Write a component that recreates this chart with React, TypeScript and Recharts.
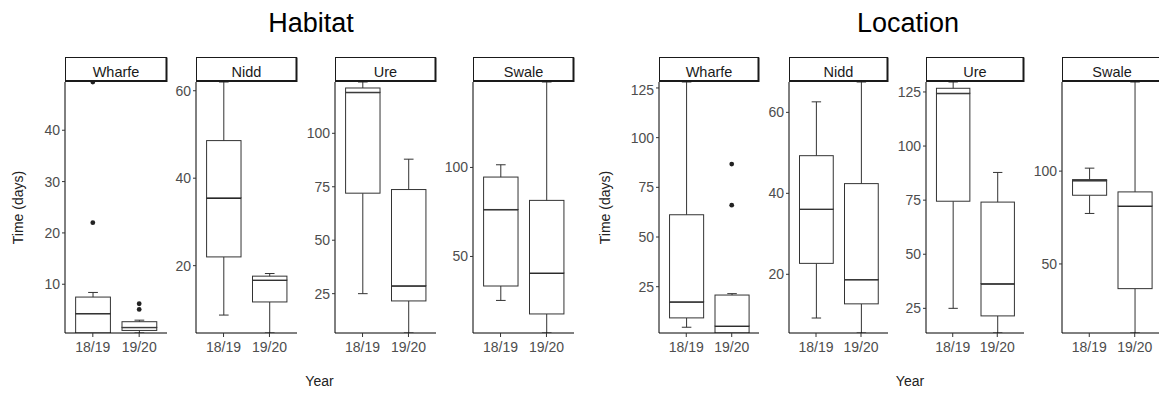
import React from 'react'
import { ComposedChart, Bar, Scatter, XAxis, YAxis } from 'recharts'

const years = ['18/19', '19/20']
const rivers = ['Wharfe', 'Nidd', 'Ure', 'Swale']
const groups = ['Habitat', 'Location']

// [min, q1, median, q3, max] for 18/19 and 19/20
const habitatWharfe = [[0.5, 0.5, 4.3, 7.5, 8.4], [0.5, 1.0, 1.6, 2.7, 3.0]]
const habitatNidd = [[8.7, 22, 35.5, 48.6, 62], [4.6, 11.7, 16.7, 17.6, 18.2]]
const habitatUre = [[25, 72, 119.2, 121.2, 124], [6.6, 21.6, 28.7, 73.7, 87.9]]
const habitatSwale = [[25.3, 33.4, 76.4, 94.6, 101.5], [7, 17.7, 40.7, 81.5, 148]]

const locationWharfe = [[4.6, 9.3, 17.4, 61.2, 128], [1.7, 1.7, 5.2, 20.8, 21.5]]
const locationNidd = [[9.2, 22.7, 36.1, 49.3, 62.6], [5.5, 12.7, 18.7, 42.4, 67.5]]
const locationUre = [[25, 74.5, 124.4, 126.7, 129.6], [13.6, 21.5, 36.4, 74.1, 87.8]]
const locationSwale = [[77.2, 87, 95, 95.4, 101.6], [12.8, 36.7, 81.2, 88.8, 148]]

// outliers per year
const habitatWharfeOut = [[22, 49.4], [5.1, 6.2]]
const locationWharfeOut = [[], [66, 86.7]]
const noOut = [[], []]

const habitatDomains = [[0.5, 49.4], [4.6, 62], [6.6, 124], [7, 148]]
const locationDomains = [[1.7, 128], [5.5, 67.5], [13.6, 129.6], [12.8, 148]]
const habitatTicks = [[10, 20, 30, 40], [20, 40, 60], [25, 50, 75, 100], [50, 100]]
const locationTicks = [[25, 50, 75, 100, 125], [20, 40, 60], [25, 50, 75, 100, 125], [50, 100]]

// layout
const PLOT_TOP = 82
const PLOT_H = 251
const Y_W = 40
const X_H = 34
const habitatLeft = [65, 196, 335, 473]
const habitatWidth = [102, 101, 101, 101]
const locationLeft = [659, 789, 926, 1062]
const locationWidth = [100, 99, 98, 100]

const FONT = '"Liberation Sans", Arial, sans-serif'
const INK = '#333333'
const TICK = '#4d4d4d'

const norm = (p: any) => {
  const { x, y, width, height } = p
  if (![x, y, width, height].every(Number.isFinite)) return null
  return { x, width, top: Math.min(y, y + height), h: Math.abs(height) }
}

const whisker = (end: 'low' | 'high') => (p: any) => {
  const r = norm(p)
  if (!r) return <g />
  const cx = r.x + r.width / 2
  const cap = r.width * 0.14
  const capY = end === 'high' ? r.top : r.top + r.h
  return (
    <g>
      <line x1={cx} x2={cx} y1={r.top} y2={r.top + r.h} stroke={INK} strokeWidth={1} />
      <line x1={cx - cap} x2={cx + cap} y1={capY} y2={capY} stroke={INK} strokeWidth={1} />
    </g>
  )
}

const boxLower = (p: any) => {
  const r = norm(p)
  if (!r) return <g />
  return (
    <g>
      <rect x={r.x} y={r.top} width={r.width} height={r.h} fill="#fff" stroke={INK} strokeWidth={1} />
      <line x1={r.x} x2={r.x + r.width} y1={r.top} y2={r.top} stroke="#222" strokeWidth={2} />
    </g>
  )
}

const boxUpper = (p: any) => {
  const r = norm(p)
  if (!r) return <g />
  return <rect x={r.x} y={r.top} width={r.width} height={r.h} fill="#fff" stroke={INK} strokeWidth={1} />
}

const dot = (p: any) =>
  Number.isFinite(p.cx) && Number.isFinite(p.cy) ? <circle cx={p.cx} cy={p.cy} r={2.4} fill="#222" /> : <g />

interface PanelProps {
  stats: number[][]
  outliers: number[][]
  domain: number[]
  ticks: number[]
  left: number
  width: number
}

function Panel({ stats, outliers, domain, ticks, left, width }: PanelProps) {
  const data = years.map((year, i) => {
    const s = stats[i]
    return {
      year,
      base: s[0],
      lowW: s[1] - s[0],
      boxLo: s[2] - s[1],
      boxHi: s[3] - s[2],
      hiW: s[4] - s[3],
      o1: outliers[i][0] ?? null,
      o2: outliers[i][1] ?? null,
    }
  })
  const unit = width / 2.2
  const pad = unit * 0.1
  const barSize = unit * 0.75

  return (
    <div style={{ position: 'absolute', left: left - Y_W, top: PLOT_TOP }}>
      <ComposedChart
        width={Y_W + width}
        height={PLOT_H + X_H}
        data={data}
        margin={{ top: 0, right: 0, bottom: 0, left: 0 }}
        style={{ overflow: 'visible' }}
      >
        <XAxis
          dataKey="year"
          interval={0}
          height={X_H}
          padding={{ left: pad, right: pad }}
          axisLine={{ stroke: '#000' }}
          tickLine={{ stroke: INK }}
          tickSize={4}
          tickMargin={5}
          tick={{ fill: TICK, fontSize: 14, fontFamily: FONT }}
        />
        <YAxis
          type="number"
          domain={domain}
          ticks={ticks}
          allowDataOverflow
          width={Y_W}
          axisLine={{ stroke: '#000' }}
          tickLine={{ stroke: INK }}
          tickSize={3}
          tick={{ fill: TICK, fontSize: 14, fontFamily: FONT }}
        />
        <Bar dataKey="base" stackId="b" barSize={barSize} shape={() => <g />} isAnimationActive={false} />
        <Bar dataKey="lowW" stackId="b" barSize={barSize} shape={whisker('low')} isAnimationActive={false} />
        <Bar dataKey="boxLo" stackId="b" barSize={barSize} shape={boxLower} isAnimationActive={false} />
        <Bar dataKey="boxHi" stackId="b" barSize={barSize} shape={boxUpper} isAnimationActive={false} />
        <Bar dataKey="hiW" stackId="b" barSize={barSize} shape={whisker('high')} isAnimationActive={false} />
        <Scatter dataKey="o1" shape={dot} isAnimationActive={false} />
        <Scatter dataKey="o2" shape={dot} isAnimationActive={false} />
      </ComposedChart>
    </div>
  )
}

const habitatStats = [habitatWharfe, habitatNidd, habitatUre, habitatSwale]
const locationStats = [locationWharfe, locationNidd, locationUre, locationSwale]
const habitatOut = [habitatWharfeOut, noOut, noOut, noOut]
const locationOut = [locationWharfeOut, noOut, noOut, noOut]

function Strip({ left, width, label }: { left: number; width: number; label: string }) {
  return (
    <g>
      <rect x={left + 0.5} y={57.5} width={width - 1} height={24} fill="#fff" stroke="#1a1a1a" strokeWidth={1} />
      <path d={`M${left + width - 0.5},57.5 V81 H${left + 0.5}`} fill="none" stroke="#1a1a1a" strokeWidth={2} />
      <text x={left + width / 2} y={76.5} textAnchor="middle" fontSize={14.5} fill="#1a1a1a" fontFamily={FONT}>
        {label}
      </text>
    </g>
  )
}

export default function App() {
  const sets = [
    { title: groups[0], lefts: habitatLeft, widths: habitatWidth, stats: habitatStats, out: habitatOut, domains: habitatDomains, ticks: habitatTicks, titleX: 311, yLabX: 23, yearX: 319.5 },
    { title: groups[1], lefts: locationLeft, widths: locationWidth, stats: locationStats, out: locationOut, domains: locationDomains, ticks: locationTicks, titleX: 908, yLabX: 610, yearX: 910 },
  ]
  return (
    <div style={{ position: 'absolute', left: 0, top: 0, width: 1159, height: 393, overflow: 'hidden', background: '#fff' }}>
      <svg width={1159} height={393} style={{ position: 'absolute', left: 0, top: 0 }}>
        {sets.map(set => (
          <g key={set.title}>
            <text x={set.titleX} y={31.5} textAnchor="middle" fontSize={27} fill="#000" fontFamily={FONT}>
              {set.title}
            </text>
            <text x={set.yearX} y={386} textAnchor="middle" fontSize={14} fill="#222" fontFamily={FONT}>
              Year
            </text>
            <text
              transform={`translate(${set.yLabX}, 207.5) rotate(-90)`}
              textAnchor="middle"
              fontSize={14}
              fill="#222"
              fontFamily={FONT}
            >
              Time (days)
            </text>
            {rivers.map((r, i) => (
              <Strip key={r} left={set.lefts[i]} width={set.widths[i]} label={r} />
            ))}
          </g>
        ))}
      </svg>
      {sets.map(set =>
        rivers.map((r, i) => (
          <Panel
            key={set.title + r}
            stats={set.stats[i]}
            outliers={set.out[i]}
            domain={set.domains[i]}
            ticks={set.ticks[i]}
            left={set.lefts[i]}
            width={set.widths[i]}
          />
        ))
      )}
    </div>
  )
}
